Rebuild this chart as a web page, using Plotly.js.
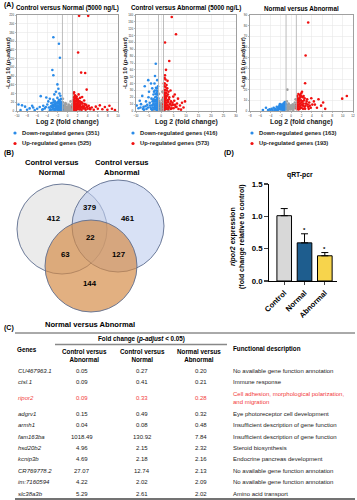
<!DOCTYPE html>
<html><head><meta charset="utf-8">
<script src="https://cdn.plot.ly/plotly-3.0.1.min.js"></script>
<style>html,body{margin:0;padding:0;background:#fff}#c{width:357px;height:500px}</style>
</head><body><div id="c"></div>
<script>
// ---------- DATA ----------
// Panel A1: Control versus Normal
const cnDownX=[-2.8,-1.7,-1.5,-3.0,-2.8,-2.0,-1.8,-5.3,-4.2,-3.5,-2.8,-9.7,-9.0,-8.4,-7.5,-6.8,-6.0,-5.5,-4.8,-4.5,-4.0,-3.7,-3.2,-3.0,-2.7,-2.5,-2.4,-2.2,-2.0,-2.0,-1.9,-1.8,-1.7,-1.6,-1.5,-1.4,-1.4,-1.3,-1.2,-1.2,-1.1,-1.1,-6.5,-5.0,-3.5,-8.0,-9.3,-7.0,-3.8,-2.6,-2.3,-1.6,-1.3,
 -3.4,-3.2,-3.1,-2.9,-2.9,-2.7,-2.6,-2.5,-2.4,-2.3,-2.3,-2.2,-2.1,-2.1,-2.0,-1.9,-1.9,-1.8,-1.8,-1.7,-1.7,-1.6,-1.6,-1.5,-1.5,-1.4,-1.4,-1.3,-1.3,-1.2,-1.2,-1.1,-1.1,-1.05,-1.05,-2.6,-2.8,-3.3,-4.3,-4.9];
const cnDownY=[169,154,122,94,82,61,51,34,31,28,26,15,13,10,6,8,5,9,12,6,15,8,18,12,5,22,14,9,30,18,4,12,25,7,16,35,3,10,20,6,14,2,2,3,2,3,2,12,22,38,44,40,28,
 4,9,3,7,15,11,2,17,6,3,11,19,5,13,8,2,21,7,17,3,11,4,19,9,23,6,14,2,17,11,27,8,18,4,12,13,20,11,9,4];
const cnUpX=[2.3,4.1,2.1,2.7,3.5,3.8,1.2,1.5,1.8,2.2,2.5,1.1,1.3,1.4,1.6,1.7,1.9,2.0,2.2,2.4,2.6,2.8,3.0,3.2,3.4,3.6,3.9,4.2,4.5,4.8,5.2,5.6,6.0,6.4,6.9,7.4,7.9,8.3,8.8,9.4,1.1,1.2,1.5,1.8,2.1,2.9,1.3,3.3,
 1.05,1.1,1.15,1.2,1.25,1.3,1.35,1.4,1.45,1.5,1.55,1.6,1.65,1.7,1.8,1.85,1.9,2.0,2.05,2.1,2.2,2.3,2.35,2.4,2.5,2.6,2.7,2.8,3.0,3.1,3.3,3.5,3.7,4.0,4.4,1.4,1.7,2.0,2.5,1.2];
const cnUpY=[218,218,134,88,87,49,40,36,33,38,30,25,20,28,15,22,10,18,8,14,5,20,11,6,16,3,9,12,4,8,3,10,5,13,4,9,3,12,5,2,5,12,3,6,25,32,43,24,
 9,17,3,22,7,14,4,18,9,24,5,11,2,17,8,26,14,4,21,12,17,4,10,22,12,16,9,3,17,7,11,6,14,5,7,33,30,28,21,31];
const cnNsX=[-0.9,-0.8,-0.6,-0.5,-0.3,-0.1,0.1,0.3,0.5,0.7,0.9,-0.7,0.2,-0.4,0.6,0.8,-0.9,0.95,-1.5,1.5,-2.5,2.5,-0.2,0.4,
 -0.95,-0.85,-0.75,-0.65,-0.55,-0.45,-0.35,-0.25,-0.15,-0.05,0.05,0.15,0.25,0.35,0.45,0.55,0.65,0.75,0.85,0.95];
const cnNsY=[20,8,14,4,9,2,6,3,10,5,15,2,12,18,22,2,28,8,1,1,1,1,1,1,
 3,12,6,10,2,13,5,16,7,4,9,5,15,7,3,6,12,9,4,11];
// Panel A2: Control versus Abnormal
const caDownX=[-2.1,-2.4,-5.1,-4.0,-3.5,-6.5,-2.8,-7.5,-8.5,-9.7,-9.0,-8.0,-7.0,-6.0,-5.5,-5.0,-4.5,-4.2,-3.8,-3.3,-3.0,-2.8,-2.5,-2.3,-2.1,-2.0,-1.8,-1.8,-1.6,-1.5,-1.4,-1.3,-1.2,-1.2,-1.1,-1.1,-6.8,-5.8,-3.6,-2.6,-1.5,-4.8,
 -3.9,-3.6,-3.4,-3.2,-3.0,-2.9,-2.7,-2.6,-2.4,-2.3,-2.2,-2.1,-2.0,-1.9,-1.9,-1.8,-1.7,-1.7,-1.6,-1.5,-1.5,-1.4,-1.4,-1.3,-1.3,-1.2,-1.2,-1.1,-1.1,-1.05,-1.05,-2.5,-3.1,-4.4,-5.2,-6.2,-7.2,-8.2,-2.0,-1.6];
const caDownY=[69,51,45,40,33,36,28,22,15,8,4,10,6,14,9,20,12,5,18,9,24,14,6,20,11,3,30,16,8,24,4,12,36,19,7,2,2,3,2,40,45,28,
 3,8,14,5,11,17,3,9,14,4,25,16,8,2,21,11,5,26,14,2,18,9,29,4,15,7,24,12,4,18,9,30,16,8,5,7,3,5,34,33];
const caUpX=[4.3,6.0,1.6,3.3,1.6,1.8,1.5,2.2,4.9,2.5,3.0,1.2,1.4,1.6,1.9,2.1,2.4,2.7,3.0,3.3,3.6,4.0,4.3,4.8,5.3,5.8,6.4,7.0,7.6,8.4,9.0,9.6,1.1,1.2,1.3,1.5,1.8,2.6,5.5,6.8,8.0,3.8,2.0,
 1.05,1.1,1.15,1.2,1.3,1.35,1.4,1.5,1.55,1.6,1.7,1.75,1.8,1.9,2.0,2.1,2.2,2.3,2.4,2.5,2.6,2.8,2.9,3.1,3.2,3.4,3.7,3.9,4.2,4.6,5.0,5.6,6.2,1.3,1.6,1.9,2.3,2.8,1.15,1.45];
const caUpY=[137,112,100,73,52,46,40,38,21,33,28,30,24,18,12,26,8,16,5,20,10,14,4,9,15,6,11,3,8,12,5,14,6,14,3,9,35,44,24,18,2,30,60,
 10,20,2,26,8,17,4,13,22,3,9,27,16,6,19,3,12,22,4,15,9,3,13,7,17,5,11,3,8,12,4,9,6,36,31,22,30,24,40,48];
const caNsX=[-0.9,-0.7,-0.5,-0.3,0,0.2,0.4,0.6,0.8,0.9,-0.8,0.5,-0.2,0.7,-1.5,1.5,-3,3,
 -0.95,-0.85,-0.75,-0.65,-0.55,-0.45,-0.35,-0.25,-0.15,-0.05,0.05,0.15,0.25,0.35,0.45,0.55,0.65,0.75,0.85,0.95];
const caNsY=[15,5,10,3,7,2,12,5,18,8,25,28,1,1,1,1,1,1,
 4,12,7,14,3,9,6,2,11,5,3,8,5,16,6,9,4,11,6,13];
// Panel A3: Normal versus Abnormal
const naDownX=[-1.2,-1.3,-1.5,-1.7,-1.9,-2.1,-2.3,-2.5,-2.8,-3.1,-3.4,-3.8,-4.2,-4.9,-1.1,-1.2,-1.4,-1.6,-1.8,-2.0,-2.6,-5.5,-1.1,-1.3,-1.5,-2.2,
 -1.05,-1.1,-1.15,-1.2,-1.25,-1.3,-1.35,-1.4,-1.45,-1.5,-1.55,-1.6,-1.65,-1.7,-1.8,-1.85,-1.9,-2.0,-2.1,-2.2,-2.3,-2.4,-2.6,-2.7,-2.9,-3.2,-3.6,-4.0,-4.5,-2.0];
const naDownY=[8.4,6,7,5,6,4,5,3,4,2,3,2,1.5,3,3,5,2,3,1.5,2,1,1,7,8,4.5,6.5,
 6,1.5,4,7,2.5,5,1,3.5,6,2,5,4,1,3,4.5,2,3,5,1.5,3,2,3.5,2,1.5,1,1,1,1,1,3.5];
const naUpX=[3.3,2.8,2.7,1.96,5.3,9.9,10.8,4.6,1.2,1.4,1.5,1.6,1.8,2.0,2.2,2.3,2.5,2.7,2.9,3.1,3.3,3.5,3.8,4.1,4.4,5.0,5.8,6.6,1.1,1.2,1.3,1.7,2.1,2.4,6.2,3.9,
 1.05,1.1,1.15,1.2,1.25,1.3,1.35,1.4,1.45,1.5,1.6,1.65,1.7,1.75,1.8,1.9,2.0,2.1,2.2,2.3,2.4,2.6,2.8,3.0,3.2,3.4,3.6,1.4,1.9,2.6];
const naUpY=[83,52,26,16.5,11,11.6,14,6,14,10,6,12,3,8,13,5,10,2,7,11,4,8,3,6,9,3,5,2,4,8,2,15,18,14,8,12,
 2,6,10,3,12,5,8,1.5,11,4,9,2,7,13,5,10,3,6,9,2,7,4,5,9,6,2,5,16,14,12];
const naNsX=[-0.75,-0.9,-0.7,-0.5,-0.3,-0.1,0.1,0.3,0.5,0.7,0.9,-0.6,0.4,0.85,-0.85,
 -0.95,-0.85,-0.75,-0.65,-0.55,-0.45,-0.35,-0.25,-0.15,-0.05,0.05,0.15,0.25,0.35,0.45,0.55,0.65,0.75,0.85,0.95];
const naNsY=[20,6,4,7,3,5,2,6,4,8,5,1,1,11,9,
 3,1.5,5,2,4,6,2,4,1.5,3,5,2,4,6,2,3,5,3,6,4];
const volcanoTitles=['Control versus Normal (5000 ng/L)','Control versus Abnormal (5000 ng/L)','Normal versus Abnormal'];
const downCounts=[351,416,163];
const upCounts=[525,573,193];
// Panel B: Venn
const vennSetLabels=['Control versus<br>Normal','Control versus<br>Abnormal','Normal versus Abnormal'];
const vennCounts=[412,379,461,22,63,127,144]; // CN only, CN∩CA, CA only, all, CN∩NA, CA∩NA, NA only
// Panel D: qRT-PCR
const qCategories=['Control','Normal','Abnormal'];
const qValues=[1.01,0.59,0.39];
const qErrors=[0.11,0.14,0.05];
// Panel C: table
const genes=['CU467963.1','ctsl.1','ripor2','adgrv1','armh1','fam163ba','hsd20b2','kcnip3b','CR769778.2','im:7160594','slc38a3b'];
const fcCtrlAbn=[0.05,0.09,0.09,0.15,0.04,1018.49,4.96,4.69,27.07,4.22,5.29];
const fcCtrlNor=[0.27,0.41,0.33,0.49,0.08,130.92,2.15,2.18,12.74,2.02,2.61];
const fcNorAbn=[0.20,0.21,0.28,0.32,0.48,7.84,2.32,2.16,2.13,2.09,2.02];
const descriptions=['No available gene function annotation','Immune response','Cell adhesion, morphological polarization,<br>and migration','Eye photoreceptor cell development','Insufficient description of gene function','Insufficient description of gene function','Steroid biosynthesis','Endocrine pancreas development','No available gene function annotation','No available gene function annotation','Amino acid transport'];
const highlightGene='ripor2';

// ---------- LAYOUT HELPERS ----------
const W=357,H=500;
const px=x=>x/W, py=y=>1-y/H;
const FONT='Liberation Sans, Arial, sans-serif';
const BLUE='#2a8be8', RED='#f01010', GREY='#a0a0a0';
const traces=[], shapes=[], ann=[];
const layout={width:W,height:H,margin:{l:0,r:0,t:0,b:0},showlegend:false,paper_bgcolor:'#fff',plot_bgcolor:'rgba(0,0,0,0)',font:{family:FONT,color:'#000'}};

function A(x,y,text,o){ann.push(Object.assign({xref:'paper',yref:'paper',x:px(x),y:py(y),text:text,showarrow:false,xanchor:'center',yanchor:'middle',font:{size:6,family:FONT,color:'#000'}},o||{}));}
function L(x0,y0,x1,y1,c,w){shapes.push({type:'line',xref:'paper',yref:'paper',x0:px(x0),y0:py(y0),x1:px(x1),y1:py(y1),line:{color:c,width:w}});}

// ---------- VOLCANOS ----------
const vol=[
 {dx:[17,118],xr:[-10,10],xd:2,yr:[0,220],yd:20,d:[cnDownX,cnDownY],u:[cnUpX,cnUpY],n:[cnNsX,cnNsY],lx:15,yl:7},
 {dx:[136,236],xr:[-10,30],xd:5,yr:[0,140],yd:10,d:[caDownX,caDownY],u:[caUpX,caUpY],n:[caNsX,caNsY],lx:133,yl:124},
 {dx:[250,353],xr:[-8,12],xd:2,yr:[0,90],yd:10,d:[naDownX,naDownY],u:[naUpX,naUpY],n:[naNsX,naNsY],lx:252,yl:242}
];
vol.forEach((v,i)=>{
 const k=i+1, xa=k===1?'x':'x'+k, ya=k===1?'y':'y'+k;
 const axc={showline:true,mirror:true,linecolor:'#777',linewidth:0.7,showgrid:true,gridcolor:'#e8e8e8',gridwidth:0.6,zeroline:false,ticks:'outside',ticklen:1.5,tickwidth:0.5,tickcolor:'#777',tickfont:{size:3,family:FONT,color:'#333'}};
 layout[k===1?'xaxis':'xaxis'+k]=Object.assign({},axc,{domain:[px(v.dx[0]),px(v.dx[1])],range:v.xr,dtick:v.xd,anchor:ya});
 layout[k===1?'yaxis':'yaxis'+k]=Object.assign({},axc,{domain:[py(111),py(15)],range:v.yr,dtick:v.yd,anchor:xa});
 [[v.n,GREY],[v.d,BLUE],[v.u,RED]].forEach(([s,c])=>traces.push({type:'scatter',mode:'markers',x:s[0],y:s[1],xaxis:xa,yaxis:ya,marker:{color:c,size:2.6,line:{width:0}},hoverinfo:'skip'}));
 [-1,1].forEach(t=>shapes.push({type:'line',xref:xa,yref:ya+' domain',x0:t,x1:t,y0:0,y1:1,line:{color:'#b5b5b5',width:0.9}}));
 const cx=(v.dx[0]+v.dx[1])/2;
 A(cx,8,'<b>'+volcanoTitles[i]+'</b>',{font:{size:6.3,family:FONT}});
 A(cx,122,'<b>Log 2 (fold change)</b>',{font:{size:6.8,family:FONT,color:'#222'}});
 A(v.yl,63,'<b>-Log 10 (<i>p-adjust</i>)</b>',{textangle:-90,font:{size:6.2,family:FONT,color:'#222'}});
 shapes.push({type:'circle',xref:'paper',yref:'paper',x0:px(v.lx-1.6),x1:px(v.lx+1.6),y0:py(133-1.6),y1:py(133+1.6),fillcolor:BLUE,line:{width:0}});
 shapes.push({type:'circle',xref:'paper',yref:'paper',x0:px(v.lx-1.6),x1:px(v.lx+1.6),y0:py(143.5-1.6),y1:py(143.5+1.6),fillcolor:RED,line:{width:0}});
 A(v.lx+5,133,'<b>Down-regulated genes ('+downCounts[i]+')</b>',{xanchor:'left',font:{size:5.8,family:FONT,color:'#222'}});
 A(v.lx+5,143.5,'<b>Up-regulated genes ('+upCounts[i]+')</b>',{xanchor:'left',font:{size:5.8,family:FONT,color:'#222'}});
});
A(2,5,'<b>(A)</b>',{xanchor:'left',font:{size:7,family:FONT}});

// ---------- VENN ----------
A(2,153,'<b>(B)</b>',{xanchor:'left',font:{size:7,family:FONT}});
function circ(cx,cy,r,fill){shapes.push({type:'circle',xref:'paper',yref:'paper',x0:px(cx-r),x1:px(cx+r),y0:py(cy+r),y1:py(cy-r),fillcolor:fill,line:{color:'#5d6d8e',width:0.9}});}
circ(62,229,45,'rgba(225,225,225,0.65)');
circ(118,226,46,'rgba(190,205,238,0.6)');
circ(91,266,46,'rgba(212,138,70,0.68)');
A(52,167,'<b>'+vennSetLabels[0]+'</b>',{font:{size:7.6,family:FONT}});
A(122,167,'<b>'+vennSetLabels[1]+'</b>',{font:{size:7.6,family:FONT}});
A(90,324,'<b>'+vennSetLabels[2]+'</b>',{font:{size:7.6,family:FONT}});
const vennPos=[[54,219],[90,208],[128,219],[90,237],[65,254],[118,254],[90,283]];
vennCounts.forEach((c,i)=>A(vennPos[i][0],vennPos[i][1],'<b>'+c+'</b>',{font:{size:7.8,family:FONT}}));

// ---------- qRT-PCR ----------
A(222,153,'<b>(D)</b>',{xanchor:'left',font:{size:7,family:FONT}});
traces.push({type:'bar',x:qCategories,y:qValues,xaxis:'x4',yaxis:'y4',width:0.72,
 marker:{color:['#d8d8d8','#1e5d8e','#f7d44c'],line:{color:'#000',width:1}},
 error_y:{type:'data',symmetric:false,array:qErrors,arrayminus:[0,0,0],color:'#000',thickness:1,width:3.5},hoverinfo:'skip'});
layout.xaxis4={domain:[px(269),px(337)],anchor:'y4',type:'category',range:[-0.75,2.6],showline:true,linecolor:'#000',linewidth:1.4,ticks:'outside',ticklen:3,tickwidth:1.2,tickangle:-45,tickfont:{size:7.6,family:FONT,color:'#000',weight:'bold'},showgrid:false,zeroline:false};
layout.yaxis4={domain:[py(281),py(184)],anchor:'x4',range:[0,1.5],tickvals:[0,0.5,1,1.5],ticktext:['0.0','0.5','1.0','1.5'],showline:true,linecolor:'#000',linewidth:1.4,ticks:'outside',ticklen:3.5,tickwidth:1.2,tickfont:{size:7.8,family:FONT,color:'#000',weight:'bold'},showgrid:false,zeroline:false};
A(300,175,'<b>qRT-pcr</b>',{font:{size:6.8,family:FONT}});
A(237,237,'<b><i>ripor2</i> expression<br>(fold change relative to control)</b>',{textangle:-90,font:{size:7,family:FONT}});
[1,2].forEach(i=>ann.push({xref:'x4',yref:'y4',x:qCategories[i],y:qValues[i]+qErrors[i]+0.06,text:'<b>*</b>',showarrow:false,font:{size:6,family:FONT,color:'#000'}}));

// ---------- TABLE ----------
A(2,328,'<b>(C)</b>',{xanchor:'left',font:{size:7,family:FONT}});
L(15,333,355,333,'#555',1);
A(141,339,'<b>Fold change (<i>p-adjust</i> < 0.05)</b>',{font:{size:6.3,family:FONT}});
L(55,344.5,227,344.5,'#888',1.3);
A(27,349,'<b>Genes</b>',{font:{size:6.3,family:FONT}});
A(84,355,'<b>Control versus<br>Abnormal</b>',{font:{size:6.3,family:FONT}});
A(142.5,355,'<b>Control versus<br>Normal</b>',{font:{size:6.3,family:FONT}});
A(199,355,'<b>Normal versus<br>Abnormal</b>',{font:{size:6.3,family:FONT}});
A(231,349,'<b>Functional description</b>',{xanchor:'left',font:{size:6.3,family:FONT}});
genes.forEach((g,i)=>{
 const y=371+11.4*i+(i>=2?4.5:0)+(i>=3?4:0);
 const col=g===highlightGene?'#f23a3a':'#222';
 const f={size:6,family:FONT,color:col};
 A(16,y,'<i>'+g+'</i>',{xanchor:'left',font:f});
 A(82,y,fcCtrlAbn[i].toFixed(2),{font:f});
 A(142,y,fcCtrlNor[i].toFixed(2),{font:f});
 A(201,y,fcNorAbn[i].toFixed(2),{font:f});
 A(231,y,descriptions[i],{xanchor:'left',align:'left',font:f});
});
L(15,499,355,499,'#444',1.5);

layout.shapes=shapes; layout.annotations=ann;
Plotly.newPlot('c',traces,layout,{staticPlot:true,displayModeBar:false});
</script></body></html>
